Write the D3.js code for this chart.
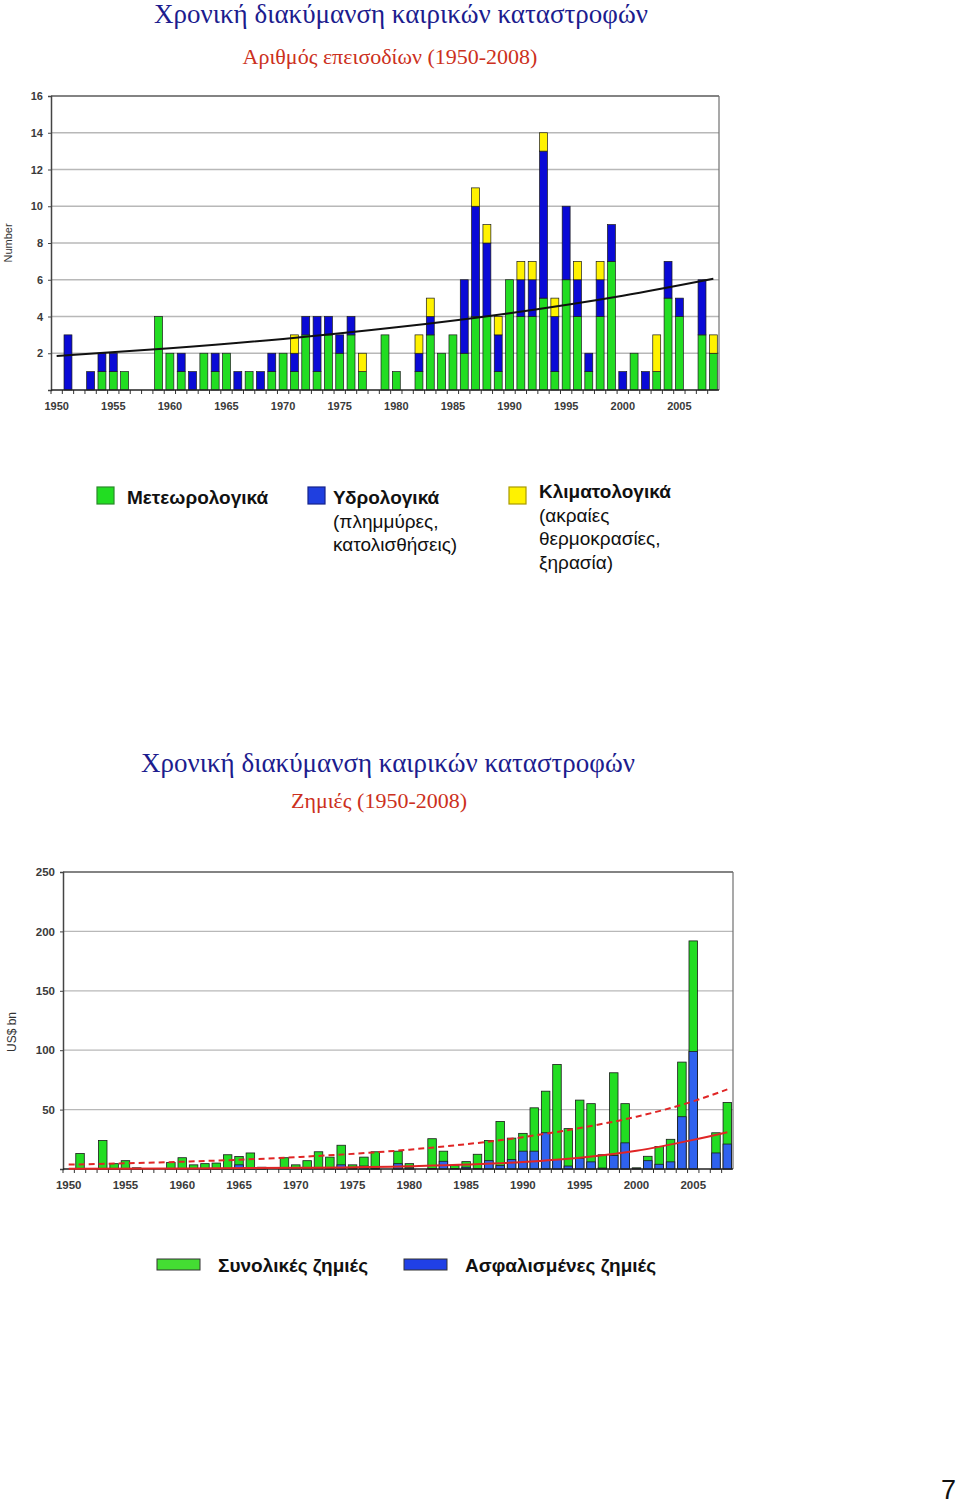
<!DOCTYPE html>
<html>
<head>
<meta charset="utf-8">
<script src="https://cdn.jsdelivr.net/npm/d3@7"></script>
<style>
html,body{margin:0;padding:0;background:#fff;}
svg{display:block;}
</style>
</head>
<body>
<script>
// ---------- DATA ----------
const years = [1950,1951,1952,1953,1954,1955,1956,1957,1958,1959,
  1960,1961,1962,1963,1964,1965,1966,1967,1968,1969,
  1970,1971,1972,1973,1974,1975,1976,1977,1978,1979,
  1980,1981,1982,1983,1984,1985,1986,1987,1988,1989,
  1990,1991,1992,1993,1994,1995,1996,1997,1998,1999,
  2000,2001,2002,2003,2004,2005,2006,2007,2008];

// Number of events (1950-2008)
const meteorological = [0,0,0,0,1,1,1,0,0,4, 2,1,0,2,1,2,0,1,0,1, 2,1,3,1,3,2,3,1,0,3,
  1,0,1,3,2,3,2,4,4,1, 6,4,4,5,1,6,4,1,4,7, 0,2,0,1,5,4,0,3,2];
const hydrological = [0,3,0,1,1,1,0,0,0,0, 0,1,1,0,1,0,1,0,1,1, 0,1,1,3,1,1,1,0,0,0,
  0,0,1,1,0,0,4,6,4,2, 0,2,2,8,3,4,2,1,2,2, 1,0,1,0,2,1,0,3,0];
const climatological = [0,0,0,0,0,0,0,0,0,0, 0,0,0,0,0,0,0,0,0,0, 0,1,0,0,0,0,0,1,0,0,
  0,0,1,1,0,0,0,1,1,1, 0,1,1,1,1,0,1,0,1,0, 0,0,0,2,0,0,0,0,1];
const eventTrendYears  = [1950,1960,1970,1980,1990,2000,2008];
const eventTrendValues = [1.85,2.27,2.78,3.41,4.18,5.13,6.05];
const eventTicks = [2,4,6,8,10,12,14,16];

// Losses US$ bn (1950-2008)
const totalLosses = [0,13,0,24,4.5,7,1,0,0,5.5, 9.5,3.5,4.5,5,12,10.5,13.5,1.5,0,9.5,
  3.5,7,14.5,10,20,3.5,10,14.5,0,15, 4.5,0,25.5,15,2.8,6.2,12.4,24,40,26,
  30,51.5,65.5,88,34,58,55,12,81,55, 1,10.7,19,25,90,192,0,30.5,56];
const insuredLosses = [0,0,0,0,0,0,0,0,0,0, 0,0,0.5,0.5,0.5,3.5,0.5,0.5,0,0,
  0,0,0,0.5,3.5,0.5,2.5,0.5,0,4.5, 1,0,0.5,6.5,0.5,1.5,0.5,7,2.8,7.9,
  15,15,30.5,8,2.5,9,6,0.8,11.3,22, 0.3,7,4,6,44,99,0,13.5,21];
const lossTrendYears = [1950,1960,1970,1980,1990,1995,2000,2005,2008];
const totalTrendValues   = [3.7,6.1,10.0,16.3,26.8,34.5,44,57,67];
const insuredTrendValues = [0.2,0.4,1.0,2.4,5.9,9.5,15.3,24.5,31];
const lossTicks = [50,100,150,200,250];

const labelYears = [1950,1955,1960,1965,1970,1975,1980,1985,1990,1995,2000,2005];

const titleMain = "Χρονική διακύμανση καιρικών καταστροφών";
const subTop = "Αριθμός επεισοδίων (1950-2008)";
const subBottom = "Ζημιές (1950-2008)";

// ---------- STYLE ----------
const C = {green:"#22DD22", blue:"#0A0AD6", yellow:"#FFF200", blue2:"#2F62EE",
  grid:"#B8B8B8", frame:"#5a5a5a", title:"#1c1c8e", sub:"#cc3020", red:"#e02525"};

const svg = d3.select("body").append("svg").attr("width",960).attr("height",1506);
svg.append("rect").attr("width",960).attr("height",1506).attr("fill","#fff");

function titles(xTitle, yTitle, xSub, ySub, sub){
  svg.append("text").attr("x",xTitle).attr("y",yTitle).attr("text-anchor","middle")
    .attr("font-family","'Liberation Serif','Times New Roman',serif").attr("font-size",27)
    .attr("fill",C.title).text(titleMain);
  svg.append("text").attr("x",xSub).attr("y",ySub).attr("text-anchor","middle")
    .attr("font-family","'Liberation Serif','Times New Roman',serif").attr("font-size",22)
    .attr("fill",C.sub).text(sub);
}

function frame(g, x, y, ticks, left, right, top, bottom, fs){
  g.append("g").selectAll("line").data(ticks).join("line")
    .attr("x1",left).attr("x2",right).attr("y1",d=>y(d)).attr("y2",d=>y(d))
    .attr("stroke",(d,i)=>i===ticks.length-1?C.frame:C.grid)
    .attr("stroke-width",(d,i)=>i===ticks.length-1?1.6:1.3);
  g.append("line").attr("x1",right).attr("x2",right).attr("y1",top).attr("y2",bottom)
    .attr("stroke","#707070").attr("stroke-width",1.2);
  const ya = d3.axisLeft(y).tickValues(ticks).tickSize(3).tickPadding(5);
  const ag = g.append("g").attr("transform",`translate(${left},0)`).call(ya);
  ag.select(".domain").attr("stroke","#444").attr("stroke-width",1.5);
  ag.selectAll(".tick line").attr("stroke","#444");
  ag.selectAll("text").attr("font-family","Arial,'Liberation Sans',sans-serif")
    .attr("font-weight","bold").attr("font-size",fs).attr("fill","#3a3a3a");
}

function xAxis(g, x, baseline, fs){
  const step = x.step();
  g.append("g").selectAll("line").data(years).join("line")
    .attr("x1",d=>x(d)-step*x.paddingInner()/2).attr("x2",d=>x(d)-step*x.paddingInner()/2)
    .attr("y1",baseline).attr("y2",baseline+4).attr("stroke","#333").attr("stroke-width",1);
  const xa = d3.axisBottom(x).tickValues(labelYears).tickSize(0).tickPadding(12);
  const ag = g.append("g").attr("transform",`translate(0,${baseline})`).call(xa);
  ag.select(".domain").remove();
  ag.selectAll("text").attr("font-family","Arial,'Liberation Sans',sans-serif")
    .attr("font-weight","bold").attr("font-size",fs).attr("fill","#3a3a3a");
  g.append("line").attr("x1",x.range()[0]).attr("x2",x.range()[1])
    .attr("y1",baseline).attr("y2",baseline).attr("stroke","#222").attr("stroke-width",1.5);
}

// ---------- TOP CHART ----------
titles(401, 23, 390, 64, subTop);
const gT = svg.append("g");
const xT = d3.scaleBand().domain(years).range([51,719]).paddingInner(0.3).paddingOuter(0.15);
const yT = d3.scaleLinear().domain([0,16]).range([390,96]);
frame(gT, xT, yT, eventTicks, 51, 719, 96, 390, 11);

const evTable = years.map((yr,i)=>({year:yr, met:meteorological[i], hyd:hydrological[i], cli:climatological[i]}));
const stack = d3.stack().keys(["met","hyd","cli"])(evTable);
const colT = {met:C.green, hyd:C.blue, cli:C.yellow};
gT.append("g").selectAll("g").data(stack).join("g").attr("fill",d=>colT[d.key])
  .selectAll("rect").data(d=>d.filter(p=>p[1]>p[0])).join("rect")
  .attr("x",d=>xT(d.data.year)).attr("width",xT.bandwidth())
  .attr("y",d=>yT(d[1])).attr("height",d=>yT(d[0])-yT(d[1]))
  .attr("stroke","#1a1a1a").attr("stroke-width",0.7);

xAxis(gT, xT, 390, 11);

const evTrend = eventTrendYears.map((yr,i)=>({year:yr, v:eventTrendValues[i]}));
gT.append("path").datum(evTrend)
  .attr("d", d3.line().x(d=>xT(d.year)+xT.bandwidth()/2).y(d=>yT(d.v)).curve(d3.curveMonotoneX))
  .attr("fill","none").attr("stroke","#111").attr("stroke-width",2);

svg.append("text").attr("transform","translate(12,243) rotate(-90)").attr("text-anchor","middle")
  .attr("font-family","Arial,'Liberation Sans',sans-serif").attr("font-size",11).attr("fill","#333").text("Number");

// top legend
const legTop = [
  {c:C.green, s:"#2a8a2a", x:97, y:487, dx:30, lines:[["Μετεωρολογικά",true]]},
  {c:"#1f3fe0", s:"#15228a", x:308, y:487, dx:25, lines:[["Υδρολογικά",true],["(πλημμύρες,",false],["κατολισθήσεις)",false]]},
  {c:"#FFF200", s:"#a89a00", x:509, y:487, dx:30, lines:[["Κλιματολογικά",true],["(ακραίες",false],["θερμοκρασίες,",false],["ξηρασία)",false]]}
];
const lt = svg.append("g").selectAll("g").data(legTop).join("g");
lt.append("rect").attr("x",d=>d.x).attr("y",d=>d.y).attr("width",17).attr("height",17)
  .attr("fill",d=>d.c).attr("stroke",d=>d.s).attr("stroke-width",1.2);
lt.each(function(d,i){
  const g = d3.select(this);
  const y0 = i===2 ? 498 : 504;
  d.lines.forEach((l,j)=>{
    g.append("text").attr("x",d.x+d.dx).attr("y",y0+j*23.5)
      .attr("font-family","Arial,'Liberation Sans',sans-serif").attr("font-size",19)
      .attr("font-weight",l[1]?"bold":"normal").attr("fill","#111").text(l[0]);
  });
});

// ---------- BOTTOM CHART ----------
titles(388, 772, 379, 808, subBottom);
const gB = svg.append("g");
const xB = d3.scaleBand().domain(years).range([63,733]).paddingInner(0.25).paddingOuter(0.125);
const yB = d3.scaleLinear().domain([0,250]).range([1169,872]);
frame(gB, xB, yB, lossTicks, 63, 733, 872, 1169, 11.5);

const lossTable = years.map((yr,i)=>({year:yr, total:totalLosses[i], insured:insuredLosses[i]}));
gB.append("g").selectAll("rect").data(lossTable.filter(d=>d.total>0)).join("rect")
  .attr("x",d=>xB(d.year)).attr("width",xB.bandwidth())
  .attr("y",d=>yB(d.total)).attr("height",d=>yB(0)-yB(d.total))
  .attr("fill",C.green).attr("stroke","#1a1a1a").attr("stroke-width",0.8);
gB.append("g").selectAll("rect").data(lossTable.filter(d=>d.insured>0)).join("rect")
  .attr("x",d=>xB(d.year)).attr("width",xB.bandwidth())
  .attr("y",d=>yB(d.insured)).attr("height",d=>yB(0)-yB(d.insured))
  .attr("fill",C.blue2).attr("stroke","#1a1a1a").attr("stroke-width",0.8);

xAxis(gB, xB, 1169, 11.5);

const lineB = vals => d3.line().x((d,i)=>xB(lossTrendYears[i])+xB.bandwidth()/2).y(d=>yB(d)).curve(d3.curveMonotoneX)(vals);
gB.append("path").attr("d",lineB(insuredTrendValues)).attr("fill","none")
  .attr("stroke",C.red).attr("stroke-width",2);
gB.append("path").attr("d",lineB(totalTrendValues)).attr("fill","none")
  .attr("stroke",C.red).attr("stroke-width",2).attr("stroke-dasharray","6,4");

svg.append("text").attr("transform","translate(16,1032) rotate(-90)").attr("text-anchor","middle")
  .attr("font-family","Arial,'Liberation Sans',sans-serif").attr("font-size",12).attr("fill","#333").text("US$ bn");

// bottom legend
const legB = [
  {c:"#44dd33", x:157, t:"Συνολικές ζημιές"},
  {c:"#2040e6", x:404, t:"Ασφαλισμένες ζημιές"}
];
const lb = svg.append("g").selectAll("g").data(legB).join("g");
lb.append("rect").attr("x",d=>d.x).attr("y",1259).attr("width",43).attr("height",11)
  .attr("fill",d=>d.c).attr("stroke","#333").attr("stroke-width",1);
lb.append("text").attr("x",d=>d.x+61).attr("y",1272)
  .attr("font-family","Arial,'Liberation Sans',sans-serif").attr("font-size",19)
  .attr("font-weight","bold").attr("fill","#111").text(d=>d.t);

// page number
svg.append("text").attr("x",941).attr("y",1499)
  .attr("font-family","Arial,'Liberation Sans',sans-serif").attr("font-size",27).attr("fill","#111").text("7");
</script>
</body>
</html>
